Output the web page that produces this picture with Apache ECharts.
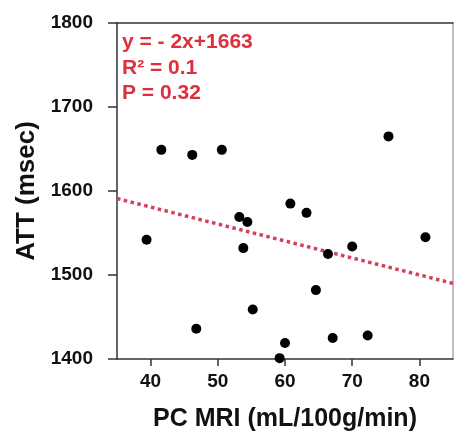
<!DOCTYPE html>
<html><head><meta charset="utf-8">
<script src="https://cdn.jsdelivr.net/npm/echarts@6/dist/echarts.min.js"></script>
<style>html,body{margin:0;padding:0;background:#fff}#c{width:470px;height:448px}</style>
</head><body><div id="c"></div>
<script>
var pcMri = [39.4, 41.6, 46.2, 50.6, 53.2, 54.4, 53.8, 60.8, 55.2, 46.8, 60.0, 59.2, 75.4, 63.2, 80.9, 70.0, 66.4, 64.6, 67.1, 72.3, 53.0];
var att   = [1542, 1649, 1643, 1649, 1569, 1563, 1532, 1585, 1459, 1436, 1419, 1401, 1665, 1574, 1545, 1534, 1525, 1482, 1425, 1428, 1778];
var fitX = [35, 85];
var fitY = [1591, 1490];
var xTicks = [40, 50, 60, 70, 80];
var statLines = ['y = - 2x+1663', 'R\u00b2 = 0.1', 'P = 0.32'];

var FONT = 'Liberation Sans, Arial, sans-serif';
var chart = echarts.init(document.getElementById('c'));
var pts = pcMri.map(function(v, i){ return [v, att[i]]; });
var fit = fitX.map(function(v, i){ return [v, fitY[i]]; });
chart.setOption({
  animation: false,
  grid: {left: 117, right: 17, top: 23, bottom: 89},
  xAxis: [{
    type: 'value', min: 35, max: 85,
    name: 'PC MRI (mL/100g/min)', nameLocation: 'middle', nameGap: 48,
    nameTextStyle: {fontFamily: FONT, fontWeight: 'bold', fontSize: 25, color: '#111'},
    axisLine: {show: true, lineStyle: {color: '#333', width: 1.5}},
    axisTick: {show: true, length: 7, customValues: xTicks, lineStyle: {color: '#333', width: 1.5}},
    axisLabel: {customValues: xTicks, fontFamily: FONT, fontWeight: 'bold', fontSize: 19, color: '#111', margin: 13},
    splitLine: {show: false}
  }, {
    type: 'value', min: 35, max: 85, position: 'top',
    axisLine: {show: true, lineStyle: {color: '#333', width: 1.5}},
    axisTick: {show: false}, axisLabel: {show: false}, splitLine: {show: false}
  }],
  yAxis: [{
    type: 'value', min: 1400, max: 1800, interval: 100,
    name: 'ATT (msec)', nameLocation: 'middle', nameGap: 72, nameRotate: 90,
    nameTextStyle: {fontFamily: FONT, fontWeight: 'bold', fontSize: 26, color: '#111'},
    axisLine: {show: true, lineStyle: {color: '#333', width: 1.5}},
    axisTick: {show: true, length: 9, lineStyle: {color: '#333', width: 1.5}},
    axisLabel: {fontFamily: FONT, fontWeight: 'bold', fontSize: 19, color: '#111', margin: 24,
      formatter: function(v){ return String(v); }},
    splitLine: {show: false}
  }, {
    type: 'value', min: 1400, max: 1800, position: 'right',
    axisLine: {show: true, lineStyle: {color: '#aaa', width: 1.5}},
    axisTick: {show: false}, axisLabel: {show: false}, splitLine: {show: false}
  }],
  series: [{
    type: 'line', data: fit, symbol: 'none', z: 2,
    lineStyle: {color: '#d43f5c', width: 3.5, type: [3.5, 3.5]}
  }, {
    type: 'scatter', data: pts, symbol: 'circle', symbolSize: 10, z: 3,
    itemStyle: {color: '#000', opacity: 1}
  }],
  graphic: statLines.map(function(t, i){
    return {type: 'text', left: 122, top: 31 + i * 25.5, zlevel: 1, z: 100,
      style: {text: t, fill: '#de2f3c', font: 'bold 21px ' + FONT,
        backgroundColor: i === 0 ? '#fff' : 'transparent', padding: [1, 0, 0, 0]}};
  })
});
</script></body></html>
